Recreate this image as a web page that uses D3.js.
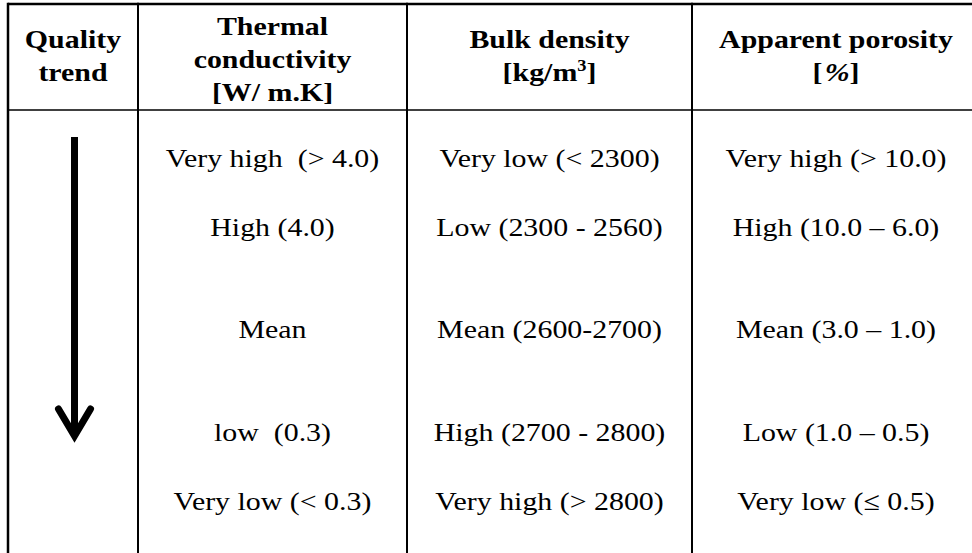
<!DOCTYPE html>
<html>
<head>
<meta charset="utf-8">
<script src="https://cdn.jsdelivr.net/npm/d3@7"></script>
<style>
  body { margin: 0; background: #fff; }
  text { font-family: "Liberation Serif", "Times New Roman", serif; fill: #000; }
</style>
</head>
<body>
<div id="container"></div>
<script>

// Table content: header lines per column, then each column's cell lines ("" = blank line)
const headers = [
  ["Quality", "trend"],
  ["Thermal", "conductivity", "[W/ m.K]"],
  ["Bulk density", "[kg/m|3|]"],
  ["Apparent porosity", "[|%|]"]
];
const thermal = ["Very high  (> 4.0)", "", "High (4.0)", "", "", "Mean", "", "", "low  (0.3)", "", "Very low (< 0.3)"];
const bulk = ["Very low (< 2300)", "", "Low (2300 - 2560)", "", "", "Mean (2600-2700)", "", "", "High (2700 - 2800)", "", "Very high (> 2800)"];
const porosity = ["Very high (> 10.0)", "", "High (10.0 \u2013 6.0)", "", "", "Mean (3.0 \u2013 1.0)", "", "", "Low (1.0 \u2013 0.5)", "", "Very low (\u2264 0.5)"];

// Declare the container size.
const width = 972;
const height = 553;

// Column edges and header height.
const colEdges = [8, 138, 407, 692, 980];
const headerTop = 4;
const headerBottom = 110;
// the source table is a bit stretched sideways
const stretch = 1.15;

const svg = d3.create("svg")
    .attr("width", width)
    .attr("height", height);

container.append(svg.node());

// Scale for body lines (line index -> baseline).
const lineY = d3.scaleLinear()
    .domain([0, 10])
    .range([167, 510]);

// Scale for header lines.
const headY = d3.scaleLinear()
    .domain([0, 1])
    .range([0, 33]);

const colCenter = i => (colEdges[i] + colEdges[i + 1]) / 2;

// Grid lines
svg.append("line")
    .attr("x1", colEdges[0]).attr("x2", width)
    .attr("y1", headerTop).attr("y2", headerTop)
    .attr("stroke", "#000").attr("stroke-width", 2.5);

svg.append("line")
    .attr("x1", colEdges[0]).attr("x2", width)
    .attr("y1", headerBottom).attr("y2", headerBottom)
    .attr("stroke", "#000").attr("stroke-width", 1.6);

svg.append("g")
  .selectAll("line")
  .data(colEdges.slice(0, 4))
  .join("line")
    .attr("x1", d => d).attr("x2", d => d)
    .attr("y1", headerTop - 1.25).attr("y2", height)
    .attr("stroke", "#000")
    .attr("stroke-width", (d, i) => i === 0 ? 2.5 : 2);

// Header text
headers.forEach((lines, i) => {
  const top = lines.length === 3 ? 35 : 48;
  const t = svg.append("text")
      .attr("transform", `translate(${colCenter(i)},0) scale(${stretch},1)`)
      .attr("text-anchor", "middle")
      .attr("font-weight", "bold")
      .attr("font-size", 26);
  lines.forEach((s, j) => {
    const parts = s.split("|");
    const ts = t.append("tspan")
        .attr("x", 0)
        .attr("y", top + headY(j));
    if (parts.length === 1) {
      ts.text(s);
    } else if (parts[1] === "%") {
      ts.text(parts[0]);
      t.append("tspan").attr("font-style", "italic").attr("dx", 2).text(parts[1]);
      t.append("tspan").text(parts[2]);
    } else {
      ts.text(parts[0]);
      t.append("tspan").attr("font-size", 16).attr("dy", -10).text(parts[1]);
      t.append("tspan").attr("dy", 10).text(parts[2]);
    }
  });
});

// Body columns
[thermal, bulk, porosity].forEach((col, i) => {
  svg.append("g")
      .attr("transform", `translate(${colCenter(i + 1)},0) scale(${stretch},1)`)
    .selectAll("text")
    .data(col.map((s, j) => ({s, j})).filter(d => d.s !== ""))
    .join("text")
      .attr("x", 0)
      .attr("y", d => lineY(d.j))
      .attr("text-anchor", "middle")
      .attr("font-size", 26)
      .attr("xml:space", "preserve")
      .text(d => d.s);
});

// Quality trend arrow
const ax = colCenter(0) + 1.5;
svg.append("line")
    .attr("x1", ax).attr("x2", ax)
    .attr("y1", 137).attr("y2", 434)
    .attr("stroke", "#000").attr("stroke-width", 7);

svg.append("path")
    .attr("d", d3.line()([[ax - 16, 409], [ax, 436], [ax + 16, 409]]))
    .attr("fill", "none")
    .attr("stroke", "#000")
    .attr("stroke-width", 7)
    .attr("stroke-linecap", "round")
    .attr("stroke-linejoin", "miter");

</script>
</body>
</html>
